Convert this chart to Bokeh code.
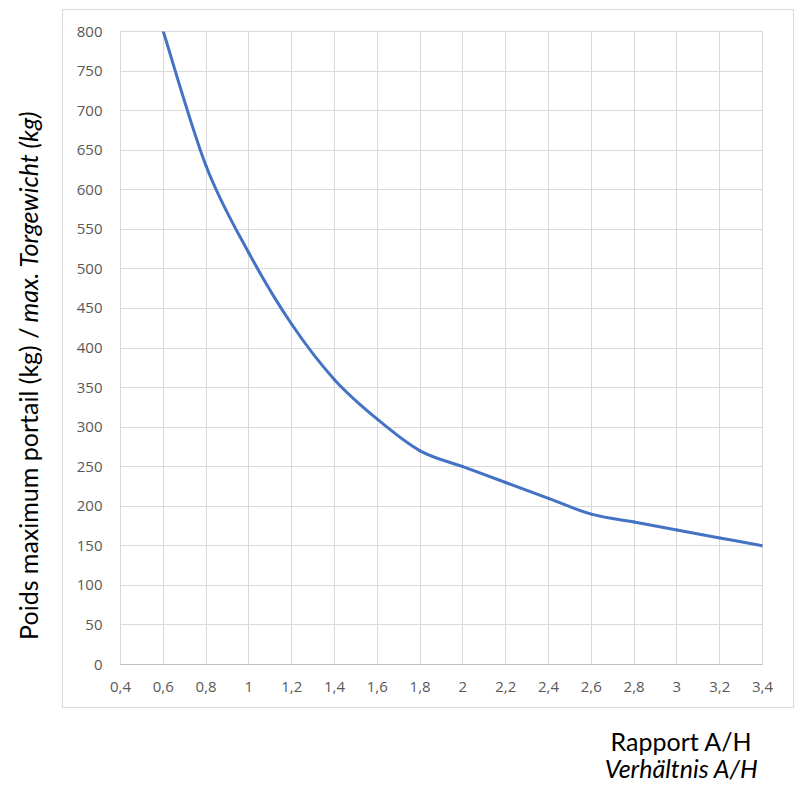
import math
import numpy as np
from bokeh.plotting import figure
from bokeh.layouts import row, column
from bokeh.models import FixedTicker, Label, Range1d, Spacer
from bokeh.embed import file_html
from bokeh.resources import INLINE

# ---- data ----
ratio = [0.6, 0.8, 1.0, 1.2, 1.4, 1.6, 1.8, 2.0, 2.2, 2.4, 2.6, 2.8, 3.0, 3.2, 3.4]
weight = [800, 630, 520, 430, 360, 310, 270, 250, 230, 210, 190, 180, 170, 160, 150]

x_ticks = [0.4, 0.6, 0.8, 1.0, 1.2, 1.4, 1.6, 1.8, 2.0, 2.2, 2.4, 2.6, 2.8, 3.0, 3.2, 3.4]
x_tick_labels = ["0,4", "0,6", "0,8", "1", "1,2", "1,4", "1,6", "1,8", "2",
                 "2,2", "2,4", "2,6", "2,8", "3", "3,2", "3,4"]
y_ticks = [0, 50, 100, 150, 200, 250, 300, 350, 400, 450, 500, 550, 600, 650, 700, 750, 800]

y_title_fr = "Poids maximum portail (kg) /"
y_title_de = "max. Torgewicht (kg)"
x_title_fr = "Rapport A/H"
x_title_de = "Verhältnis A/H"

TITLE_FONT = "Lato"
TITLE_SIZE = "25px"


def blank(width, height):
    f = figure(width=width, height=height, output_backend="svg", toolbar_location=None,
               title_location=None, x_axis_location=None, y_axis_location=None,
               x_range=Range1d(0, width), y_range=Range1d(height, 0),
               min_border=0, min_border_left=0, min_border_right=0,
               min_border_top=0, min_border_bottom=0)
    f.xgrid.visible = False
    f.ygrid.visible = False
    f.outline_line_color = None
    f.background_fill_color = "white"
    f.border_fill_color = "white"
    return f


# ---- main chart (1px CSS border forms the outer chart box) ----
p = figure(width=732, height=699, output_backend="svg", toolbar_location=None,
           title_location=None,
           x_range=Range1d(0.4, 3.4), y_range=Range1d(0, 800),
           min_border_left=57, min_border_right=33, min_border_top=21, min_border_bottom=45)
p.background_fill_color = "white"
p.border_fill_color = "white"
p.outline_line_color = "#d9d9d9"
p.styles = {"border": "1px solid #d9d9d9"}

grid_color = "#d9d9d9"
p.xgrid.grid_line_color = grid_color
p.ygrid.grid_line_color = grid_color
p.xgrid.ticker = FixedTicker(ticks=x_ticks)
p.ygrid.ticker = FixedTicker(ticks=y_ticks)

for ax in (p.xaxis[0], p.yaxis[0]):
    ax.major_tick_line_color = None
    ax.minor_tick_line_color = None
    ax.major_tick_in = 0
    ax.major_tick_out = 0
    ax.minor_tick_in = 0
    ax.minor_tick_out = 0
    ax.major_label_text_font = "Open Sans"
    ax.major_label_text_font_size = "15px"
    ax.major_label_text_color = "#595959"

p.xaxis[0].ticker = FixedTicker(ticks=x_ticks)
p.xaxis[0].major_label_overrides = dict(zip(x_ticks, x_tick_labels))
p.xaxis[0].axis_line_color = "#bfbfbf"
p.xaxis[0].major_label_standoff = 17
p.yaxis[0].ticker = FixedTicker(ticks=y_ticks)
p.yaxis[0].axis_line_color = None
p.yaxis[0].major_label_standoff = 18

# smooth curve through the data points (Catmull-Rom rendered as Bezier segments)
P = np.column_stack([ratio, weight]).astype(float)
n = len(P)
Pm = np.vstack([P[0], P, P[-1]])
c0 = P[:-1] + (Pm[2:n + 1] - Pm[0:n - 1]) / 6.0
c1 = P[1:] - (Pm[3:n + 2] - Pm[1:n]) / 6.0
p.bezier(x0=P[:-1, 0], y0=P[:-1, 1], x1=P[1:, 0], y1=P[1:, 1],
         cx0=c0[:, 0], cy0=c0[:, 1], cx1=c1[:, 0], cy1=c1[:, 1],
         line_color="#4472c4", line_width=3, line_cap="round")

# ---- y title panel ----
py = blank(62, 710)
py.add_layout(Label(x=27, y=327, text=y_title_fr, angle=math.pi / 2, text_align="right",
                    text_baseline="middle", text_font=TITLE_FONT, text_font_size=TITLE_SIZE,
                    text_color="#000000"))
py.add_layout(Label(x=27, y=322, text=y_title_de, angle=math.pi / 2, text_align="left",
                    text_baseline="middle", text_font=TITLE_FONT, text_font_size=TITLE_SIZE,
                    text_font_style="italic", text_color="#000000"))

# ---- x title panel ----
px = blank(802, 75)
px.add_layout(Label(x=752, y=30, text=x_title_fr, text_align="right", text_baseline="alphabetic",
                    text_font=TITLE_FONT, text_font_size=TITLE_SIZE, text_color="#000000"))
px.add_layout(Label(x=758, y=57, text=x_title_de, text_align="right", text_baseline="alphabetic",
                    text_font=TITLE_FONT, text_font_size=TITLE_SIZE, text_font_style="italic",
                    text_color="#000000"))

layout = column(row(py, column(Spacer(width=734, height=9), p)), px)

open("out.html", "w").write(file_html(layout, INLINE))
